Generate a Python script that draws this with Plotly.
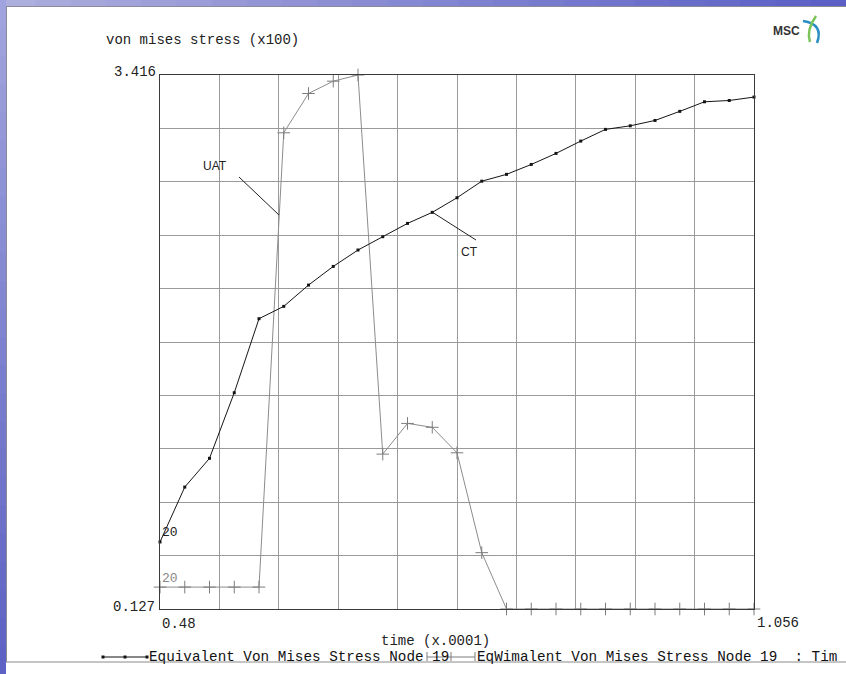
import plotly.graph_objects as go

# ---------------- data ----------------
time_vals = [0.48, 0.504, 0.528, 0.552, 0.576, 0.6, 0.624, 0.648, 0.672, 0.696,
             0.72, 0.744, 0.768, 0.792, 0.816, 0.84, 0.864, 0.888, 0.912, 0.936,
             0.96, 0.984, 1.008, 1.032, 1.056]
ct_stress = [0.540, 0.878, 1.055, 1.459, 1.915, 1.991, 2.122, 2.237, 2.338, 2.420,
             2.502, 2.570, 2.660, 2.762, 2.804, 2.865, 2.933, 3.009, 3.081, 3.103,
             3.136, 3.192, 3.251, 3.259, 3.280]
uat_stress = [0.262, 0.262, 0.262, 0.262, 0.262, 3.060, 3.302, 3.378, 3.416, 1.081,
              1.270, 1.246, 1.089, 0.474, 0.127, 0.127, 0.127, 0.127, 0.127, 0.127,
              0.127, 0.127, 0.127, 0.127, 0.127]
x_tick_labels = ["0.48", "1.056"]
y_tick_labels = ["0.127", "3.416"]
series_labels = ["CT", "UAT"]
node_labels = ["20", "20"]
legend_texts = ["Equivalent Von Mises Stress Node 19",
                "EqWimalent Von Mises Stress Node 19  : Tim"]
y_title = "von mises stress (x100)"
x_title = "time (x.0001)"

# ---------------- geometry helpers ----------------
FIG_W, FIG_H = 846, 674
L, T, W, H = 160, 75, 594, 534


def px(xp):
    return (xp - L) / W


def py(yp):
    return (T + H - yp) / H


x0, x1 = float(x_tick_labels[0]), float(x_tick_labels[1])
y0, y1 = float(y_tick_labels[0]), float(y_tick_labels[1])
n_div = 10
x_grid = [x0 + (x1 - x0) * i / n_div for i in range(n_div + 1)]
y_grid = [y0 + (y1 - y0) * i / n_div for i in range(n_div + 1)]

MONO = "Liberation Mono, DejaVu Sans Mono, monospace"
SANS = "Liberation Sans, Arial, sans-serif"
GRID = "#9a9a9a"

fig = go.Figure()

fig.add_trace(go.Scatter(
    x=time_vals, y=uat_stress, mode="lines+markers", name=series_labels[1],
    line=dict(color="#8c8c8c", width=1),
    marker=dict(symbol="cross-thin", size=9, color="#7c7c7c",
                line=dict(color="#7c7c7c", width=1)),
    cliponaxis=False, showlegend=False))
fig.add_trace(go.Scatter(
    x=time_vals, y=ct_stress, mode="lines+markers", name=series_labels[0],
    line=dict(color="#151515", width=1),
    marker=dict(symbol="square", size=3, color="#151515"),
    cliponaxis=False, showlegend=False))

shapes = []
# slide background: blue bands on top and left
n_seg = 24
for i in range(n_seg):
    f = i / (n_seg - 1)
    r = int(172 - 80 * f); g = int(174 - 78 * f); b = int(222 - 24 * f)
    shapes.append(dict(type="rect", xref="paper", yref="paper",
                       x0=px(FIG_W * i / n_seg), x1=px(FIG_W * (i + 1) / n_seg + 1),
                       y0=py(0), y1=py(6), fillcolor=f"rgb({r},{g},{b})",
                       line=dict(width=0), layer="below"))
for i in range(n_seg):
    f = i / (n_seg - 1)
    r = int(160 - 66 * f); g = int(164 - 66 * f); b = int(222 - 26 * f)
    shapes.append(dict(type="rect", xref="paper", yref="paper",
                       x0=px(0), x1=px(6),
                       y0=py(FIG_H * i / n_seg), y1=py(FIG_H * (i + 1) / n_seg + 1),
                       fillcolor=f"rgb({r},{g},{b})", line=dict(width=0), layer="below"))
# slide border lines
shapes.append(dict(type="line", xref="paper", yref="paper", x0=px(6), x1=px(FIG_W),
                   y0=py(6.5), y1=py(6.5), line=dict(color="#8a8a9a", width=1)))
shapes.append(dict(type="line", xref="paper", yref="paper", x0=px(6.5), x1=px(6.5),
                   y0=py(6), y1=py(662), line=dict(color="#8a8a9a", width=1)))
shapes.append(dict(type="line", xref="paper", yref="paper", x0=px(6), x1=px(FIG_W),
                   y0=py(662), y1=py(662), line=dict(color="#8a8a8a", width=1)))

# white boxes behind callout labels (hide gridlines)
shapes.append(dict(type="rect", xref="paper", yref="paper", x0=px(202), x1=px(259),
                   y0=py(183), y1=py(155), fillcolor="white", line=dict(width=0),
                   layer="between"))
shapes.append(dict(type="rect", xref="paper", yref="paper", x0=px(459), x1=px(521),
                   y0=py(270), y1=py(242), fillcolor="white", line=dict(width=0),
                   layer="between"))
# leader lines
shapes.append(dict(type="line", xref="paper", yref="paper", x0=px(239), y0=py(177),
                   x1=px(279), y1=py(215), line=dict(color="#222", width=1)))
shapes.append(dict(type="line", xref="paper", yref="paper", x0=px(432), y0=py(212),
                   x1=px(476), y1=py(240), line=dict(color="#222", width=1)))

# legend samples
shapes.append(dict(type="line", xref="paper", yref="paper", x0=px(103), x1=px(147),
                   y0=py(657), y1=py(657), line=dict(color="#111", width=1)))
for xm in (103, 125, 147):
    shapes.append(dict(type="rect", xref="paper", yref="paper", x0=px(xm - 1.5),
                       x1=px(xm + 1.5), y0=py(658.5), y1=py(655.5),
                       fillcolor="#111", line=dict(width=0)))
shapes.append(dict(type="line", xref="paper", yref="paper", x0=px(427), x1=px(475),
                   y0=py(657), y1=py(657), line=dict(color="#7c7c7c", width=1)))
for xm in (427, 451, 475):
    shapes.append(dict(type="line", xref="paper", yref="paper", x0=px(xm), x1=px(xm),
                       y0=py(661), y1=py(652), line=dict(color="#7c7c7c", width=1)))

# MSC logo swirl
shapes.append(dict(type="path", xref="paper", yref="paper",
                   path=f"M {px(803)},{py(21)} Q {px(824)},{py(24)} {px(817)},{py(43)}",
                   line=dict(color="#2b8fc4", width=2.5)))
shapes.append(dict(type="path", xref="paper", yref="paper",
                   path=f"M {px(816)},{py(16)} Q {px(806)},{py(30)} {px(810)},{py(42)}",
                   line=dict(color="#7cc35a", width=2.5)))

annotations = []


def ann(text, xp, yp, xanchor="left", size=14, color="#222", family=MONO, **kw):
    annotations.append(dict(text=text, xref="paper", yref="paper", x=px(xp), y=py(yp),
                            xanchor=xanchor, yanchor="middle", showarrow=False,
                            font=dict(family=family, size=size, color=color), **kw))


ann(y_title, 104, 40, size=14)
ann(y_tick_labels[1], 158, 72, xanchor="right", size=14)
ann(y_tick_labels[0], 157, 607, xanchor="right", size=14)
ann(x_tick_labels[0], 160, 624, size=14)
ann(x_tick_labels[1], 755, 623, size=14)
ann(x_title, 379, 641, size=14)
ann(legend_texts[0], 147, 657, size=14.3, color="#111")
ann(legend_texts[1], 475, 657, size=14.3, color="#111")
ann(series_labels[1], 215, 166, xanchor="center", size=12, color="#222", family=SANS)
ann(series_labels[0], 469, 252, xanchor="center", size=12, color="#222", family=SANS)
ann("<b>MSC</b>", 802, 31, xanchor="right", size=12, color="#333",
    family="Liberation Sans Narrow, Arial Narrow, Liberation Sans, sans-serif")

# node id labels next to first points
annotations.append(dict(text=node_labels[0], x=time_vals[0], y=ct_stress[0],
                        xref="x", yref="y", xanchor="left", yanchor="middle",
                        yshift=9, showarrow=False,
                        font=dict(family=MONO, size=13, color="#222")))
annotations.append(dict(text=node_labels[1], x=time_vals[0], y=uat_stress[0],
                        xref="x", yref="y", xanchor="left", yanchor="middle",
                        yshift=9, showarrow=False,
                        font=dict(family=MONO, size=13, color="#8a8a8a")))

axis_common = dict(showgrid=True, gridcolor=GRID, gridwidth=1, zeroline=False,
                   showline=True, linecolor="#3a3a3a", linewidth=1, mirror=True,
                   ticks="", showticklabels=False, fixedrange=True)

fig.update_layout(
    width=FIG_W, height=FIG_H,
    margin=dict(l=L, r=FIG_W - L - W, t=T, b=FIG_H - T - H, pad=0),
    paper_bgcolor="white", plot_bgcolor="white",
    xaxis=dict(range=[x0, x1], tickvals=x_grid, **axis_common),
    yaxis=dict(range=[y0, y1], tickvals=y_grid, **axis_common),
    shapes=shapes, annotations=annotations, showlegend=False,
)

fig.write_html("out.html", config={"displayModeBar": False},
               post_script="document.body.style.margin='0';")
